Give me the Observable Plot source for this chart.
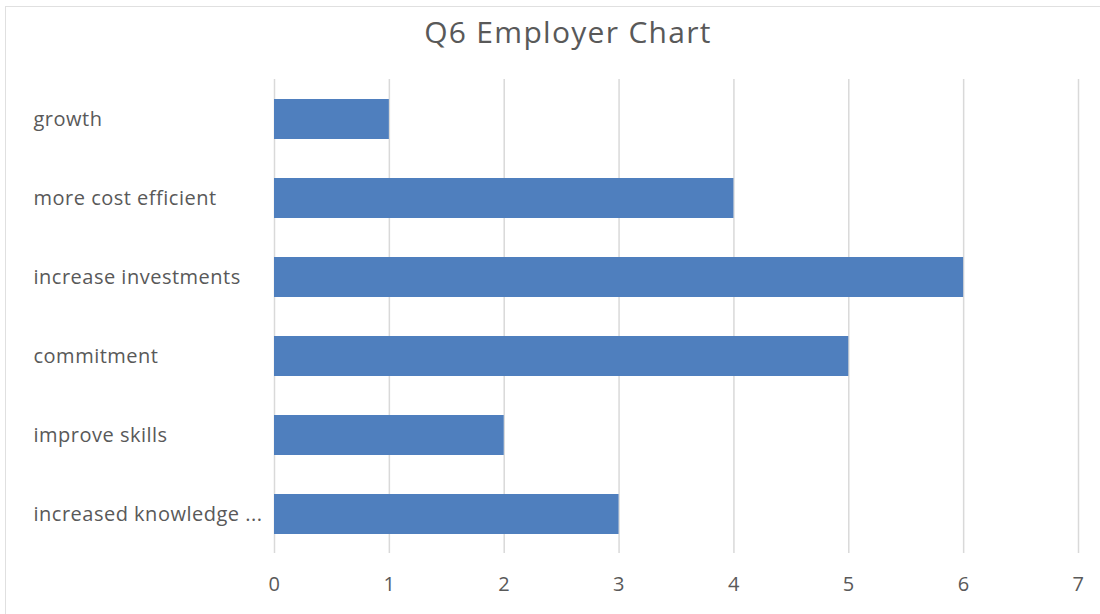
<!DOCTYPE html>
<html>
<head>
<meta charset="utf-8">
<script src="https://cdn.jsdelivr.net/npm/d3@7"></script>
<script src="https://cdn.jsdelivr.net/npm/@observablehq/plot@0.6"></script>
<style>
  body { margin: 0; background: #fff; }
  #wrap { position: relative; width: 1100px; height: 614px; overflow: hidden; background: #fff; }
  #frame { position: absolute; left: 5px; top: 6px; width: 1200px; height: 700px; border: 1px solid #e0e0e0; box-sizing: border-box; }
  #title { position: absolute; left: 18px; top: 0; width: 1100px; height: 56px; text-align: center;
           font-family: "Open Sans", sans-serif; font-size: 30px; letter-spacing: 1.3px; color: #595959; line-height: 64px; }
  #plot { position: absolute; left: 0; top: 56px; }
  #plot svg text { letter-spacing: 0.5px; }
</style>
</head>
<body>
<div id="wrap">
  <div id="frame"></div>
  <div id="title">Q6 Employer Chart</div>
  <div id="plot"></div>
</div>
<script>
const categories = ["growth", "more cost efficient", "increase investments", "commitment", "improve skills", "increased knowledge ..."];
const values = [1, 4, 6, 5, 2, 3];
const xTicks = [0, 1, 2, 3, 4, 5, 6, 7];

const data = categories.map((c, i) => ({category: c, value: values[i]}));

const chart = Plot.plot({
  width: 1100,
  height: 558,
  marginLeft: 274,
  marginRight: 22,
  marginTop: 23,
  marginBottom: 61,
  style: {fontFamily: "Open Sans, sans-serif", fontSize: "20px", color: "#595959", background: "transparent"},
  x: {domain: [0, 7], ticks: xTicks, label: null},
  y: {domain: categories, paddingInner: 0.5, paddingOuter: 0.25, label: null},
  marks: [
    Plot.gridX(xTicks, {stroke: "#d9d9d9", strokeOpacity: 1, strokeWidth: 1.5}),
    Plot.barX(data, {x: "value", y: "category", fill: "#4f7fbe"}),
    Plot.axisX({ticks: xTicks, tickFormat: "d", tickSize: 0, tickPadding: 23, fill: "#595959", label: null}),
    Plot.axisY({tickSize: 0, tickPadding: 0, textAnchor: "start", dx: -241, fill: "#595959", label: null})
  ]
});
document.getElementById("plot").appendChild(chart);
</script>
</body>
</html>
